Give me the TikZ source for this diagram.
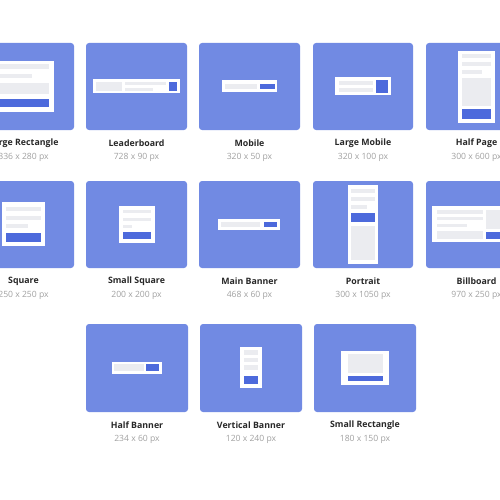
\documentclass[tikz,border=0pt]{standalone}
\usepackage{fontspec}
\setmainfont{Open Sans}
\definecolor{tileblue}{RGB}{113,138,227}
\definecolor{btnblue}{RGB}{77,106,220}
\definecolor{bargray}{RGB}{235,236,240}
\definecolor{titlegray}{RGB}{40,40,40}
\definecolor{subgray}{RGB}{160,160,160}
\tikzset{
  tile/.style={fill=tileblue, rounded corners=3pt},
  panel/.style={fill=white},
  bar/.style={fill=bargray},
  btn/.style={fill=btnblue},
  title/.style={font=\bfseries\fontsize{8.8}{10}\selectfont, text=titlegray, inner sep=0pt},
  sub/.style={font=\fontsize{8.6}{10}\selectfont, text=subgray, inner sep=0pt}
}

\begin{document}
\begin{tikzpicture}[x=1pt, y=-1pt]
\useasboundingbox (0,0) rectangle (500,500);
\clip (0,0) rectangle (500,500);
%%%%% Row 1 %%%%%
\fill[tile] (-27,43) rectangle (74,130);
\fill[tile] (86,43) rectangle (187,130);
\fill[tile] (199,43) rectangle (300,130);
\fill[tile] (313,43) rectangle (413,130);
\fill[tile] (426,43) rectangle (527,130);
% large rectangle
\fill[panel] (-7,61) rectangle (54,112);
\fill[bar] (-2,64.3) rectangle (49,69.3);
\fill[bar] (-2,74) rectangle (32,78.3);
\fill[bar] (-2,82.7) rectangle (49,94.3);
\fill[btn] (-2,99) rectangle (49,107.3);
% leaderboard
\fill[panel] (93,79.3) rectangle (180,93.3);
\fill[bar] (96,81.7) rectangle (122,91);
\fill[bar] (125,82) rectangle (165.7,84.7);
\fill[bar] (125,88.3) rectangle (152.7,90.7);
\fill[btn] (168.7,82.3) rectangle (176.7,90.7);
% mobile
\fill[panel] (222,80.3) rectangle (277.3,92.3);
\fill[bar] (224.7,84) rectangle (257,88.7);
\fill[btn] (259.7,84) rectangle (275.3,88.7);
% large mobile
\fill[panel] (335,77.3) rectangle (390.7,95.3);
\fill[bar] (338.7,81) rectangle (373.3,85);
\fill[bar] (338.7,88) rectangle (373.3,92);
\fill[btn] (376,80.3) rectangle (388,92.7);
% half page
\fill[panel] (458.3,50.7) rectangle (495,122.7);
\fill[bar] (462.3,54) rectangle (491,58);
\fill[bar] (462.3,62) rectangle (491,65.7);
\fill[bar] (462.3,70) rectangle (482,73.7);
\fill[bar] (462.3,77.7) rectangle (491,106);
\fill[btn] (462.3,109) rectangle (491,119);

\node[title] (lrect) at (23.5,143) {Large Rectangle};
\node[sub] (lrect-sz) at (23.5,157) {336 x 280 px};
\node[title] (leader) at (136.5,143) {Leaderboard};
\node[sub] (leader-sz) at (136.5,157) {728 x 90 px};
\node[title] (mobile) at (249.5,143) {Mobile};
\node[sub] (mobile-sz) at (249.5,157) {320 x 50 px};
\node[title] (lmobile) at (363,143) {Large Mobile};
\node[sub] (lmobile-sz) at (363,157) {320 x 100 px};
\node[title] (halfpage) at (476.5,143) {Half Page};
\node[sub] (halfpage-sz) at (476.5,157) {300 x 600 px};

%%%%% Row 2 %%%%%
\fill[tile] (-27,181) rectangle (74,268);
\fill[tile] (86,181) rectangle (187,268);
\fill[tile] (199,181) rectangle (300,268);
\fill[tile] (313,181) rectangle (413,268);
\fill[tile] (426,181) rectangle (527,268);
% square
\fill[panel] (1.7,202.3) rectangle (45,246);
\fill[bar] (6,207) rectangle (40.7,210.7);
\fill[bar] (6,216) rectangle (40.7,220);
\fill[bar] (6,224.3) rectangle (28.3,228.3);
\fill[btn] (6,233.3) rectangle (40.7,241.7);
% small square
\fill[panel] (119,206) rectangle (154.7,242.7);
\fill[bar] (122.7,210) rectangle (150.7,213.3);
\fill[bar] (122.7,217.7) rectangle (150.7,221);
\fill[bar] (122.7,224.7) rectangle (131.7,228);
\fill[btn] (122.7,231.7) rectangle (150.7,238.7);
% main banner
\fill[panel] (218.3,218.7) rectangle (280.3,230);
\fill[bar] (221.3,221.7) rectangle (260.3,227);
\fill[btn] (264.3,221.7) rectangle (277.3,227);
% portrait
\fill[panel] (347.7,184.7) rectangle (378.3,264);
\fill[bar] (351.3,189) rectangle (374.7,193);
\fill[bar] (351.3,197) rectangle (374.7,201);
\fill[bar] (351.3,205) rectangle (367.3,209);
\fill[btn] (351.3,212.7) rectangle (374.7,222.3);
\fill[bar] (351.3,225.7) rectangle (374.7,260.3);
% billboard
\fill[panel] (432.3,206) rectangle (520.7,242.3);
\fill[bar] (436.7,210) rectangle (483,213.7);
\fill[bar] (436.7,216.7) rectangle (483,220.3);
\fill[bar] (436.7,223.7) rectangle (467.3,227.3);
\fill[bar] (436.7,231) rectangle (483,238.7);
\fill[bar] (486,210) rectangle (516.3,228.7);
\fill[btn] (486,231.7) rectangle (516.3,238.7);

\node[title] (square) at (23.5,281) {Square};
\node[sub] (square-sz) at (23.5,295) {250 x 250 px};
\node[title] (ssquare) at (136.5,281) {Small Square};
\node[sub] (ssquare-sz) at (136.5,295) {200 x 200 px};
\node[title] (mbanner) at (249.5,281) {Main Banner};
\node[sub] (mbanner-sz) at (249.5,295) {468 x 60 px};
\node[title] (portrait) at (363,281) {Portrait};
\node[sub] (portrait-sz) at (363,295) {300 x 1050 px};
\node[title] (billboard) at (476.5,281) {Billboard};
\node[sub] (billboard-sz) at (476.5,295) {970 x 250 px};

%%%%% Row 3 %%%%%
\fill[tile] (86,324) rectangle (188,412);
\fill[tile] (200,324) rectangle (302,412);
\fill[tile] (314,324) rectangle (416,412);
% half banner
\fill[panel] (112,362) rectangle (162,373.7);
\fill[bar] (114.3,364.3) rectangle (144,371.3);
\fill[btn] (146,364.3) rectangle (159.3,371.3);
% vertical banner
\fill[panel] (240,346.7) rectangle (262,388.3);
\fill[bar] (243.7,350) rectangle (258.3,355);
\fill[bar] (243.7,357.7) rectangle (258.3,362.3);
\fill[bar] (243.7,365.3) rectangle (258.3,370);
\fill[btn] (243.7,376) rectangle (258.3,384.3);
% small rectangle
\fill[panel] (341,350.7) rectangle (389,384.7);
\fill[bar] (347.7,354) rectangle (383,373);
\fill[btn] (347.7,376) rectangle (383,381.3);

\node[title] (hbanner) at (137,425) {Half Banner};
\node[sub] (hbanner-sz) at (137,439) {234 x 60 px};
\node[title] (vbanner) at (251,425) {Vertical Banner};
\node[sub] (vbanner-sz) at (251,439) {120 x 240 px};
\node[title] (srect) at (365,425) {Small Rectangle};
\node[sub] (srect-sz) at (365,439) {180 x 150 px};
\end{tikzpicture}
\end{document}
